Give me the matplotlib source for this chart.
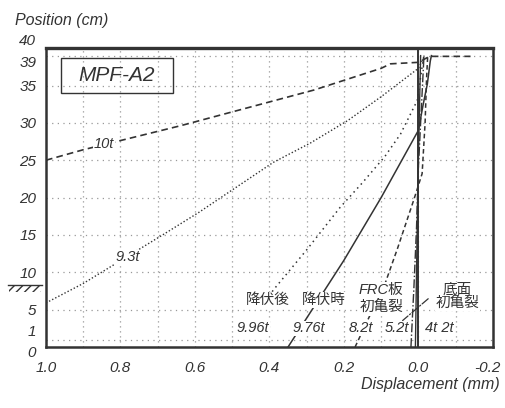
import matplotlib
matplotlib.use("Agg")
import matplotlib.pyplot as plt
from matplotlib.patches import Rectangle
from matplotlib.transforms import ScaledTranslation, blended_transform_factory

plt.rcParams['font.family'] = ['Liberation Sans', 'Noto Sans CJK JP']

# -------------------------------
# Data (displacement mm, position cm)
# -------------------------------
disp_10t = [1.0, 0.9, 0.64, 0.28, 0.1, 0.075, 0.0, -0.03, -0.14]
pos_10t = [25.0, 26.4, 29.6, 34.4, 37.3, 37.9, 38.1, 38.9, 38.9]

disp_93t = [1.0, 0.9, 0.69, 0.59, 0.39, 0.29, 0.19, 0.1, 0.0, -0.015]
pos_93t = [5.9, 8.5, 14.9, 18.0, 24.7, 27.3, 30.3, 33.5, 37.3, 38.8]

disp_996t = [0.40, 0.39, 0.30, 0.21, 0.15, 0.09, 0.048, 0.003, -0.01, -0.015]
pos_996t = [6.8, 7.6, 13.0, 18.7, 22.0, 25.5, 28.5, 33.0, 37.5, 39.0]

disp_976t = [0.35, 0.2, 0.1, 0.03, 0.0, -0.013, -0.024, -0.032, -0.035]
pos_976t = [0.0, 11.6, 20.0, 26.3, 29.0, 32.5, 35.2, 38.3, 39.0]

disp_82t = [0.17, 0.088, 0.056, 0.013, -0.01, -0.018, -0.022, -0.025]
pos_82t = [0.0, 8.7, 13.2, 19.6, 23.2, 30.0, 36.0, 39.0]

disp_52t = [0.02, 0.012, 0.005, 0.0, -0.008, -0.015]
pos_52t = [0.0, 8.0, 16.0, 24.0, 32.0, 39.0]

disp_4t = [0.008, 0.005, 0.002, -0.002, -0.006]
pos_4t = [0.0, 10.0, 20.0, 30.0, 39.0]

disp_2t = [0.0, 0.0]
pos_2t = [0.0, 40.0]

x_ticks = [1.0, 0.8, 0.6, 0.4, 0.2, 0.0, -0.2]
x_labels = ["1.0", "0.8", "0.6", "0.4", "0.2", "0.0", "-0.2"]
y_ticks = [0, 1, 5, 10, 15, 20, 25, 30, 35, 39, 40]
x_grid = [0.9, 0.8, 0.7, 0.6, 0.5, 0.4, 0.3, 0.2, 0.1, 0.0, -0.1]
y_grid = [1, 5, 10, 15, 20, 25, 30, 35, 39]

INK = "#333333"
GRID = "#999999"

fig = plt.figure(figsize=(5.05, 4.08), dpi=100)
ax = fig.add_axes([0.091, 0.1495, 0.885, 0.7325])

ax.set_xlim(1.0, -0.2)
ax.set_ylim(0, 40)

# dotted grid
for gx in x_grid:
    ax.axvline(gx, color=GRID, lw=0.9, ls=(0, (1, 3)), zorder=1)
for gy in y_grid:
    ax.axhline(gy, color=GRID, lw=0.9, ls=(0, (1, 3.5)), zorder=1)

# curves
ax.plot(disp_10t, pos_10t, color=INK, lw=1.2, ls=(0, (4, 2.5)), zorder=3)
ax.plot(disp_93t, pos_93t, color=INK, lw=1.0, ls=(0, (1, 1.5)), zorder=3)
ax.plot(disp_996t, pos_996t, color=INK, lw=1.1, ls=(0, (1, 2.5)), zorder=3)
ax.plot(disp_976t, pos_976t, color=INK, lw=1.1, ls='-', zorder=3)
ax.plot(disp_82t, pos_82t, color=INK, lw=1.1, ls=(0, (3, 2)), zorder=3)
ax.plot(disp_52t, pos_52t, color=INK, lw=1.0, ls='-.', zorder=3)
ax.plot(disp_4t, pos_4t, color=INK, lw=1.0, ls='-', zorder=3)
ax.plot(disp_2t, pos_2t, color=INK, lw=1.4, ls='-', zorder=3)

# leader line to bottom crack label
ax.annotate("", xy=(0.048, 3.3), xytext=(-0.032, 6.7),
            arrowprops=dict(arrowstyle='-', color=INK, lw=0.9, ls='-.'))

# frame
for side in ax.spines.values():
    side.set_linewidth(1.8)
    side.set_color(INK)
ax.spines['top'].set_linewidth(2.4)

# ticks
ax.set_xticks(x_ticks)
ax.set_xticklabels(x_labels)
ax.set_yticks(y_ticks)
ax.set_yticklabels([str(v) for v in y_ticks])
ax.tick_params(length=0, labelsize=11, colors=INK)
ax.tick_params(axis='x', pad=10)
ax.tick_params(axis='y', pad=7)
for lab in ax.get_xticklabels() + ax.get_yticklabels():
    lab.set_fontstyle('italic')

# last x label pulled in so it stays on the canvas
xlabs = ax.get_xticklabels()
xlabs[-1].set_transform(xlabs[-1].get_transform() + ScaledTranslation(-4 / 72, 0, fig.dpi_scale_trans))

# crowded y labels spread apart
shift = {"0": -3.5, "1": 6.5, "39": -4.5, "40": 6.0}
for lab in ax.get_yticklabels():
    dy = shift.get(lab.get_text())
    if dy:
        lab.set_transform(lab.get_transform() + ScaledTranslation(0, dy / 72, fig.dpi_scale_trans))

# axis titles
fig.text(0.03, 0.95, "Position (cm)", fontsize=11.5, style='italic', color=INK, va='center')
fig.text(0.99, 0.058, "Displacement (mm)", fontsize=11.5, style='italic', color=INK,
         ha='right', va='center')

# specimen box
ax.add_patch(Rectangle((0.96, 34.0), -0.30, 4.7, fill=False, ec=INK, lw=1.0, zorder=4))
ax.text(0.81, 36.4, "MPF-A2", fontsize=15, style='italic', color=INK, ha='center', va='center', zorder=5)

# curve labels
box = dict(fc='white', ec='none', pad=0.5)
ax.text(0.845, 27.2, "10t", fontsize=10.5, style='italic', color=INK, ha='center', va='center', bbox=box, zorder=5)
ax.text(0.78, 12.0, "9.3t", fontsize=10.5, style='italic', color=INK, ha='center', va='center', bbox=box, zorder=5)
for x, txt in [(0.445, "9.96t"), (0.295, "9.76t"), (0.155, "8.2t"), (0.057, "5.2t"), (-0.055, "4t 2t")]:
    ax.text(x, 2.5, txt, fontsize=10.5, style='italic', color=INK, ha='center', va='center',
            bbox=box, zorder=5)

cjk = ['Noto Sans CJK JP']
ax.text(0.405, 6.3, "降伏後", fontsize=10.5, family=cjk, color=INK, ha='center', va='center', bbox=box, zorder=5)
ax.text(0.255, 6.3, "降伏時", fontsize=10.5, family=cjk, color=INK, ha='center', va='center', bbox=box, zorder=5)
ax.text(0.10, 7.6, "FRC板", fontsize=10.5, family=['Liberation Sans', 'Noto Sans CJK JP'], style='italic',
        color=INK, ha='center', va='center', bbox=box, zorder=5)
ax.text(0.10, 5.2, "初亀裂", fontsize=10.5, family=cjk, color=INK, ha='center', va='center', bbox=box, zorder=5)
ax.text(-0.105, 6.7, "底面\n初亀裂", fontsize=10.5, family=cjk, color=INK, ha='center', va='center',
        linespacing=0.95, bbox=box, zorder=5)

# support (fixed end) symbol on left side
tr = blended_transform_factory(ax.transAxes, ax.transData)
ax.add_patch(Rectangle((-0.082, 7.3), 0.072, 1.0, transform=tr, fill=False, hatch='////',
                       ec=INK, lw=0, clip_on=False))
ax.plot([-0.085, -0.008], [8.3, 8.3], transform=tr, color=INK, lw=1.0, clip_on=False)

fig.savefig("out.png", dpi=100)
